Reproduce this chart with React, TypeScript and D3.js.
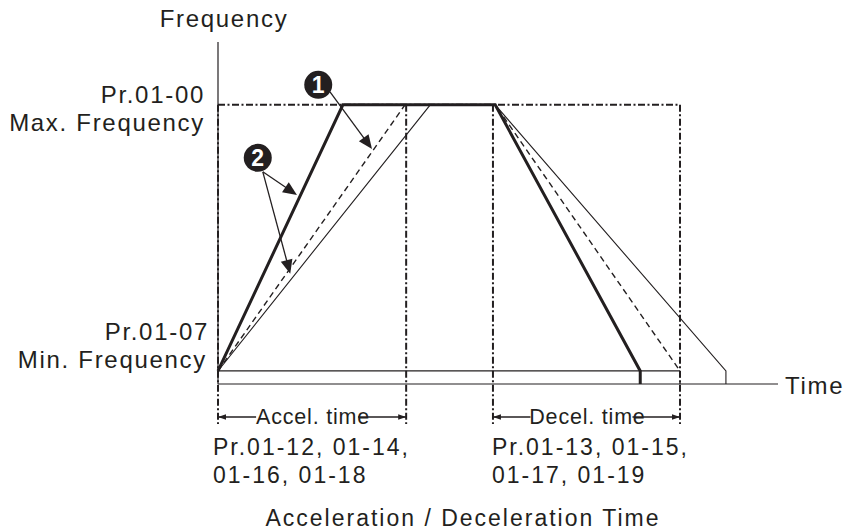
import React from 'react';
import * as d3 from 'd3';

// ---- data (time in arbitrary units 0..100, frequency in Hz) ----
const timeDomain: [number, number] = [0, 100];
const freqDomain: [number, number] = [0, 73.5];
const minFreq = 2.8;
const maxFreq = 60;

const curveIds = ['fast', 'set', 'slow'];
const accelEnd = [22.3, 33.4, 37.9];
const decelStart = [49.5, 49.5, 49.5];
const decelEnd = [75.4, 82.5, 90.7];

const accelSpan: [number, number] = [0, 33.6];
const decelSpan: [number, number] = [49.1, 82.5];

const freqLabelsTop = ['Pr.01-00', 'Max. Frequency'];
const freqLabelsBottom = ['Pr.01-07', 'Min. Frequency'];
const accelParams = ['Pr.01-12, 01-14,', '01-16, 01-18'];
const decelParams = ['Pr.01-13, 01-15,', '01-17, 01-19'];
const spanLabels = ['Accel. time', 'Decel. time'];
const yAxisTitle = 'Frequency';
const xAxisTitle = 'Time';
const chartTitle = 'Acceleration / Deceleration Time';

// annotation markers: label, centre t, centre f
const markerLabels = ['1', '2'];
const markerT = [17.9, 7.1];
const markerF = [64.3, 48.6];
// arrows from marker to curves
const arrowMarker = [0, 1, 1];
const arrowFromT = [20.0, 8.0, 8.0];
const arrowFromF = [62.8, 45.6, 45.6];
const arrowToT = [27.5, 14.1, 12.9];
const arrowToF = [50.5, 40.6, 23.7];

const FONT = '"Liberation Sans", Arial, Helvetica, sans-serif';
const INK = '#231f20';

export default function App() {
  const width = 845;
  const height = 531;
  const x = d3.scaleLinear().domain(timeDomain).range([218, 778]);
  const y = d3.scaleLinear().domain(freqDomain).range([384, 42]);
  const line = d3
    .line<[number, number]>()
    .x((d) => x(d[0]))
    .y((d) => y(d[1]));

  const curves = curveIds.map((id, i) => ({
    id,
    pts: [
      [0, minFreq],
      [accelEnd[i], maxFreq],
      [decelStart[i], maxFreq],
      [decelEnd[i], minFreq],
      [decelEnd[i], 0],
    ] as [number, number][],
  }));

  const curveStyle: Record<string, any> = {
    fast: { strokeWidth: 3, dash: undefined },
    set: { strokeWidth: 1.4, dash: '6,4' },
    slow: { strokeWidth: 1.1, dash: undefined },
  };

  const dotDash = '7,2.5,2,2.5';
  const yMax = y(maxFreq);
  const yBottomGuide = 424;
  const guideTimes = [0, accelSpan[1], decelSpan[0], decelSpan[1]];

  const arrowHead = (x1: number, y1: number, x2: number, y2: number, len: number, half: number) => {
    const dx = x2 - x1;
    const dy = y2 - y1;
    const L = Math.hypot(dx, dy);
    const ux = dx / L;
    const uy = dy / L;
    const bx = x2 - ux * len;
    const by = y2 - uy * len;
    return `M${x2},${y2}L${bx - uy * half},${by + ux * half}L${bx + uy * half},${by - ux * half}Z`;
  };

  const spanY = 417;
  const spans = [
    { span: accelSpan, label: spanLabels[0] },
    { span: decelSpan, label: spanLabels[1] },
  ];

  const labelStyle = { fontFamily: FONT, fill: INK, letterSpacing: '1.7px' } as any;
  const paramStyle = { fontFamily: FONT, fill: INK, letterSpacing: '2px' } as any;

  return (
    <svg
      width={width}
      height={height}
      style={{ position: 'absolute', left: 0, top: 0, background: '#fff' }}
    >
      <rect width={width} height={height} fill="#fff" />
      {/* axes */}
      <line x1={x(0)} x2={x(0)} y1={y(freqDomain[1])} y2={y(0)} stroke={INK} strokeWidth={1.2} />
      <line x1={x(0)} x2={x(timeDomain[1])} y1={y(0)} y2={y(0)} stroke={INK} strokeWidth={1.2} />
      {/* min frequency level */}
      <line x1={x(0)} x2={x(decelSpan[1])} y1={y(minFreq)} y2={y(minFreq)} stroke={INK} strokeWidth={1.2} />

      {/* dot-dash guides */}
      <line x1={x(0)} x2={x(decelSpan[1])} y1={yMax} y2={yMax} stroke={INK} strokeWidth={2} strokeDasharray={dotDash} />
      {guideTimes.map((t, i) => (
        <line key={i} x1={x(t)} x2={x(t)} y1={yMax} y2={yBottomGuide} stroke={INK} strokeWidth={2} strokeDasharray={dotDash} />
      ))}

      {/* curves */}
      {curves.map((c) => (
        <path
          key={c.id}
          d={line(c.pts) || ''}
          fill="none"
          stroke={INK}
          strokeWidth={curveStyle[c.id].strokeWidth}
          strokeDasharray={curveStyle[c.id].dash}
          strokeLinejoin="miter"
        />
      ))}

      {/* annotation arrows */}
      {arrowMarker.map((m, i) => {
        const x1 = x(arrowFromT[i]);
        const y1 = y(arrowFromF[i]);
        const x2 = x(arrowToT[i]);
        const y2 = y(arrowToF[i]);
        const L = Math.hypot(x2 - x1, y2 - y1);
        const ex = x2 - ((x2 - x1) / L) * 8;
        const ey = y2 - ((y2 - y1) / L) * 8;
        return (
          <g key={i}>
            <line x1={x1} y1={y1} x2={ex} y2={ey} stroke={INK} strokeWidth={1.3} />
            <path d={arrowHead(x1, y1, x2, y2, 14, 6)} fill={INK} />
          </g>
        );
      })}
      {markerLabels.map((lab, i) => (
        <g key={lab}>
          <circle cx={x(markerT[i])} cy={y(markerF[i])} r={14} fill={INK} />
          <text
            x={x(markerT[i])}
            y={y(markerF[i]) + 8}
            textAnchor="middle"
            fontFamily={FONT}
            fontWeight="bold"
            fontSize={23}
            fill="#fff"
          >
            {lab}
          </text>
        </g>
      ))}

      {/* span arrows */}
      {spans.map((s, i) => {
        const xa = x(s.span[0]);
        const xb = x(s.span[1]);
        const mid = (xa + xb) / 2;
        return (
          <g key={i}>
            <line x1={xa} x2={mid - 56} y1={spanY} y2={spanY} stroke={INK} strokeWidth={1.3} />
            <line x1={mid + 46} x2={xb} y1={spanY} y2={spanY} stroke={INK} strokeWidth={1.3} />
            <path d={arrowHead(xb, spanY, xa, spanY, 8, 2.8)} fill={INK} />
            <path d={arrowHead(xa, spanY, xb, spanY, 8, 2.8)} fill={INK} />
            <text x={mid + 1} y={spanY + 7} textAnchor="middle" fontSize={21.5} style={{ ...labelStyle, letterSpacing: '0.8px' }}>
              {s.label}
            </text>
          </g>
        );
      })}

      {/* labels */}
      <text x={224} y={27} textAnchor="middle" fontSize={24} style={labelStyle}>{yAxisTitle}</text>
      <text x={205} y={103} textAnchor="end" fontSize={24} style={labelStyle}>{freqLabelsTop[0]}</text>
      <text x={205} y={131} textAnchor="end" fontSize={24} style={labelStyle}>{freqLabelsTop[1]}</text>
      <text x={209} y={340} textAnchor="end" fontSize={24} style={labelStyle}>{freqLabelsBottom[0]}</text>
      <text x={207} y={368} textAnchor="end" fontSize={24} style={labelStyle}>{freqLabelsBottom[1]}</text>
      <text x={785} y={394} fontSize={24} style={labelStyle}>{xAxisTitle}</text>

      {accelParams.map((t, i) => (
        <text key={t} x={x(accelSpan[0]) - 5} y={455 + i * 28} fontSize={23} style={paramStyle}>{t}</text>
      ))}
      {decelParams.map((t, i) => (
        <text key={t} x={x(decelSpan[0]) - 1} y={455 + i * 28} fontSize={23} style={paramStyle}>{t}</text>
      ))}
      <text x={463} y={526} textAnchor="middle" fontSize={23} style={paramStyle}>{chartTitle}</text>
    </svg>
  );
}
